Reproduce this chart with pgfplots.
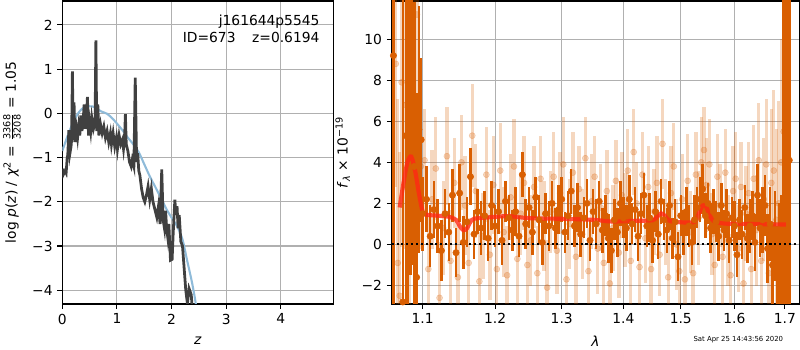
\documentclass[border=0pt]{standalone}
\usepackage{fontspec}
\setmainfont{DejaVu Sans}
\usepackage{pgfplots}
\pgfplotsset{compat=1.18}
\definecolor{dko}{RGB}{217,95,2}
\definecolor{pzblue}{RGB}{143,187,217}
\definecolor{pzblack}{RGB}{64,64,64}
\definecolor{mred}{RGB}{255,40,20}
\definecolor{gridc}{RGB}{176,176,176}
\begin{document}
\begin{tikzpicture}
\useasboundingbox (0,0) rectangle (8in,3.5in);
\pgfplotsset{every axis/.append style={
  font=\fontsize{10}{12}\selectfont,
  scale only axis, anchor=south west,
  tick align=outside, tick pos=left, major tick length=3.5pt,
  grid=major, grid style={color=gridc, line width=0.8pt},
  axis line style={line width=0.8pt},
  every tick/.style={black, line width=0.8pt},
  minor tick num=0,
}}
% ---------- left: p(z) ----------
\begin{axis}[
  at={(0.623in,0.46in)}, width=2.71in, height=3.03in,
  xmin=0, xmax=4.96, ymin=-4.31, ymax=2.54,
  xtick={0,1,2,3,4}, xticklabels={0,1,2,3,4},
  ytick={-4,-3,-2,-1,0,1,2}, yticklabels={−4,−3,−2,−1,0,1,2},
  xlabel={\textit{z}},
  xlabel style={at={(axis description cs:0.5,-0.122)}, anchor=center},
  ylabel={log \textit{p}(\textit{z}) / \textit{χ}\textsuperscript{2} = $\frac{\mbox{\fontsize{7}{7}\selectfont 3368}}{\mbox{\fontsize{7}{7}\selectfont 3208}}$ = 1.05},
  ylabel style={at={(axis description cs:-0.186,0.5)}, anchor=center},
]
\addplot[pzblue, line width=1.5pt, smooth] coordinates {
(0.00,-0.85)(0.10,-0.5)(0.20,-0.2)(0.30,0.02)(0.40,0.14)(0.50,0.16)(0.60,0.14)(0.70,0.05)(0.82,-0.01)(0.92,-0.12)(1.00,-0.23)(1.10,-0.38)(1.20,-0.55)(1.30,-0.7)(1.40,-0.88)(1.50,-1.15)(1.60,-1.42)(1.70,-1.66)(1.80,-1.9)(1.90,-2.15)(2.00,-2.36)(2.10,-2.55)(2.20,-2.85)(2.28,-3.3)(2.37,-3.8)(2.43,-4.2)(2.46,-4.45)};
\addplot[pzblack, line width=2pt] coordinates {
(0.00,-1.25)(0.02,-1.38)(0.05,-1.3)(0.07,-1.35)(0.09,-1.0)(0.10,-0.95)(0.12,-0.38)(0.14,-0.9)(0.16,-0.75)(0.17,-0.6)(0.185,0.95)(0.20,-0.6)(0.215,0.25)(0.23,-0.65)(0.26,-0.35)(0.28,-0.55)(0.30,-0.3)(0.32,-0.5)(0.34,-0.05)(0.36,-0.4)(0.38,-0.2)(0.40,0.2)(0.42,-0.35)(0.44,-0.15)(0.46,0.37)(0.48,-0.5)(0.50,-0.2)(0.52,-0.4)(0.54,-0.1)(0.57,-0.35)(0.60,-0.2)(0.615,1.65)(0.63,-0.4)(0.65,0.2)(0.67,-0.5)(0.70,-0.25)(0.73,-0.45)(0.76,-0.3)(0.79,-0.55)(0.82,-0.4)(0.85,-0.65)(0.88,-0.45)(0.90,-0.7)(0.93,-0.45)(0.96,-0.75)(0.99,-0.55)(1.01,-0.8)(1.04,-0.5)(1.07,-0.7)(1.10,-0.6)(1.12,-0.8)(1.14,-0.55)(1.155,-0.02)(1.17,-0.7)(1.20,-0.85)(1.23,-1.1)(1.26,-1.2)(1.28,-1.05)(1.31,-1.2)(1.335,0.81)(1.36,-1.1)(1.38,-0.9)(1.40,-1.3)(1.42,-1.4)(1.45,-1.7)(1.48,-1.9)(1.51,-2.0)(1.54,-1.85)(1.57,-1.65)(1.60,-1.95)(1.63,-1.7)(1.66,-2.0)(1.70,-2.2)(1.73,-2.35)(1.76,-2.1)(1.79,-2.5)(1.82,-1.27)(1.845,-2.4)(1.87,-2.6)(1.89,-2.2)(1.91,-2.6)(1.93,-2.8)(1.95,-2.5)(1.98,-3.32)(2.01,-3.3)(2.03,-2.7)(2.06,-1.95)(2.08,-2.3)(2.10,-2.1)(2.12,-2.6)(2.14,-2.3)(2.17,-2.9)(2.20,-3.0)(2.23,-3.5)(2.26,-4.0)(2.29,-4.3)(2.32,-3.96)(2.36,-4.1)(2.39,-4.6)};
\node[anchor=north east, align=right, inner sep=0pt] at (axis description cs:0.95,0.955) {j161644p5545\\ID=673\hspace{1.2em}z=0.6194};
\end{axis}
% ---------- right: spectrum ----------
\begin{axis}[
  at={(3.917in,0.46in)}, width=4.075in, height=3.03in,
  xmode=log, xmin=1.0598, xmax=1.7295, ymin=-2.9, ymax=11.86,
  xtick={1.1,1.2,1.3,1.4,1.5,1.6,1.7}, xticklabels={1.1,1.2,1.3,1.4,1.5,1.6,1.7},
  minor xtick={},
  ytick={-2,0,2,4,6,8,10}, yticklabels={−2,0,2,4,6,8,10},
  xlabel={\textit{λ}},
  xlabel style={at={(axis description cs:0.5,-0.122)}, anchor=center},
  ylabel={\textit{f}\textsubscript{\textit{λ}} × 10\textsuperscript{−19}},
  ylabel style={at={(axis description cs:-0.12,0.5)}, anchor=center},
]
% light points
\addplot[only marks, mark=*, mark size=2.2pt, color=dko, opacity=0.25,
  error bars/.cd, y dir=both, y explicit, error mark=none,
  error bar style={line width=2.4pt, color=dko, opacity=0.25}]
  table[x index=0, y index=1, y error index=2] {
1.0650 8.8 6
1.0675 -0.9 8
1.0700 -2.5 7
1.0725 7.9 8
1.0775 6.8 7
1.0825 2.5 6
1.0875 6.9 7
1.0925 11.2 6
1.0975 3.8 4
1.1025 4.1 2.5
1.1075 -1.2 2.6
1.1125 2.2 2.4
1.1175 3.7 2.5
1.1225 -2.6 2.7
1.1275 0.8 2.3
1.1325 4.3 2.4
1.1375 -0.8 2.5
1.1425 3.0 2.2
1.1475 -1.6 2.6
1.1525 4.0 2.3
1.1575 1.9 2.4
1.1625 -0.9 2.2
1.1675 5.3 2.5
1.1725 2.6 2.3
1.1775 -1.8 2.4
1.1825 0.4 2.1
1.1875 3.4 2.3
1.1925 -0.5 2.2
1.1975 2.9 2.4
1.2025 -1.2 2.1
1.2075 3.6 2.3
1.2125 0.6 2.2
1.2175 -1.5 2.4
1.2225 2.3 2.1
1.2275 3.8 2.3
1.2325 -0.7 2.2
1.2375 1.5 2.0
1.2425 3.0 2.3
1.2475 -1.0 2.1
1.2525 0.2 2.2
1.2575 2.8 2.0
1.2625 -1.4 2.3
1.2675 3.2 2.1
1.2725 0.9 2.2
1.2775 -2.1 2.3
1.2825 1.6 2.0
1.2875 3.3 2.2
1.2925 -0.3 2.1
1.2975 2.5 2.0
1.3025 3.9 2.3
1.3075 -1.7 2.1
1.3125 1.0 2.2
1.3175 3.5 2.0
1.3225 -0.6 2.3
1.3275 2.7 2.1
1.3325 0.5 2.2
1.3375 4.2 2.0
1.3425 -1.3 2.1
1.3475 2.1 2.3
1.3525 3.3 2.0
1.3575 -0.2 2.2
1.3625 1.8 2.1
1.3675 -0.9 2.3
1.3725 2.6 2.0
1.3775 -1.9 2.2
1.3825 0.8 2.1
1.3875 3.1 2.0
1.3925 -0.4 2.2
1.3975 2.4 2.1
1.4025 1.2 2.3
1.4075 3.6 2.0
1.4125 -0.8 2.2
1.4175 4.5 2.1
1.4225 2.0 2.0
1.4275 -1.1 2.3
1.4325 3.4 2.1
1.4375 0.3 2.2
1.4425 2.8 2.0
1.4475 -1.2 2.2
1.4525 1.6 2.1
1.4575 3.0 2.3
1.4625 -0.5 2.0
1.4675 4.9 2.2
1.4725 1.1 2.1
1.4775 -1.6 2.0
1.4825 2.5 2.3
1.4875 3.8 2.1
1.4925 0.0 2.2
1.4975 -1.3 2.0
1.5025 2.2 2.2
1.5075 -1.7 2.1
1.5125 3.1 2.3
1.5175 0.6 2.0
1.5225 -1.4 2.2
1.5275 3.4 2.1
1.5325 1.3 2.3
1.5375 4.0 2.2
1.5425 4.6 2.1
1.5475 2.9 2.3
1.5525 3.9 2.2
1.5575 0.5 2.0
1.5625 -1.0 2.2
1.5675 3.3 2.1
1.5725 1.9 2.0
1.5775 -0.6 2.3
1.5825 3.5 2.1
1.5875 0.2 2.2
1.5925 -1.5 2.0
1.5975 2.6 2.2
1.6025 3.2 2.3
1.6075 -0.2 2.1
1.6125 2.8 2.2
1.6175 -1.9 2.4
1.6225 1.5 2.3
1.6275 2.5 2.5
1.6325 -1.2 2.4
1.6375 3.2 2.6
1.6425 0.7 2.7
1.6475 4.1 2.8
1.6525 -0.8 2.9
1.6575 2.2 3.0
1.6625 3.9 3.2
1.6675 -1.4 3.4
1.6725 3.0 3.6
1.6775 3.6 3.9
1.6825 1.2 4.4
1.6875 2.0 5.0
1.6925 4.0 6.0
1.6975 5.5 8.0
};
% dark points
\addplot[only marks, mark=*, mark size=2.3pt, color=dko,
  error bars/.cd, y dir=both, y explicit, error mark=none,
  error bar style={line width=1.8pt, color=dko}]
  table[x index=0, y index=1, y error index=2] {
1.0620 9.2 30
1.0740 -2.8 30
1.0780 5.3 12
1.0810 6.9 10
1.0840 6.5 8
1.0860 6.0 7
1.0890 3.8 8
1.0920 -1.6 9
1.0950 5.6 6
1.0980 5.1 4
1.100 1.5 1.8
1.105 2.2 1.6
1.110 0.4 1.5
1.115 1.7 1.4
1.120 0.9 1.3
1.125 -0.3 1.5
1.130 1.5 1.2
1.135 0.6 1.4
1.140 2.4 1.3
1.145 -0.4 1.2
1.150 2.5 1.4
1.155 0.1 1.3
1.160 1.1 1.2
1.165 3.3 1.4
1.170 0.5 1.2
1.175 1.6 1.1
1.180 0.8 1.3
1.185 1.4 1.2
1.190 0.3 1.1
1.195 1.9 1.2
1.200 0.9 1.0
1.205 1.6 1.1
1.210 0.2 1.2
1.215 2.1 1.0
1.220 1.3 1.1
1.225 0.7 1.0
1.230 1.6 1.2
1.235 0.4 1.0
1.240 3.4 1.1
1.245 1.0 1.2
1.250 1.8 1.0
1.255 0.6 1.1
1.260 2.3 1.0
1.265 1.2 1.2
1.270 0.1 1.1
1.275 1.5 1.0
1.280 0.9 1.2
1.285 2.0 1.1
1.290 0.8 1.0
1.295 1.7 1.2
1.300 2.2 1.1
1.305 0.6 1.0
1.310 1.4 1.2
1.315 2.6 1.1
1.320 0.9 1.0
1.325 1.8 1.2
1.330 0.5 1.1
1.335 1.3 1.0
1.340 2.0 1.2
1.345 0.2 1.0
1.350 1.6 1.1
1.355 1.0 1.2
1.360 2.1 1.0
1.365 0.7 1.1
1.370 1.4 1.0
1.375 0.3 1.2
1.380 -0.3 1.1
1.385 1.2 1.0
1.390 0.6 1.2
1.395 2.0 1.1
1.400 1.3 1.0
1.405 0.8 1.1
1.410 2.2 1.2
1.415 1.0 1.0
1.420 1.7 1.1
1.425 0.4 1.2
1.430 1.5 1.0
1.435 2.4 1.1
1.440 0.9 1.0
1.445 1.3 1.2
1.450 0.2 1.1
1.455 1.6 1.0
1.460 0.5 1.2
1.465 2.1 1.1
1.470 1.2 1.0
1.475 0.7 1.1
1.480 1.9 1.2
1.485 0.3 1.0
1.490 1.1 1.1
1.495 -0.6 1.2
1.500 1.4 1.0
1.505 0.6 1.1
1.510 1.6 1.2
1.515 0.9 1.0
1.520 0.1 1.1
1.525 1.2 1.2
1.530 1.8 1.0
1.535 2.2 1.1
1.540 2.7 1.2
1.545 1.4 1.1
1.550 2.0 1.0
1.555 0.8 1.2
1.560 1.6 1.1
1.565 1.1 1.0
1.570 0.4 1.2
1.575 1.9 1.1
1.580 0.7 1.0
1.585 1.5 1.2
1.590 0.2 1.1
1.595 1.3 1.0
1.600 0.9 1.2
1.605 -0.5 1.1
1.610 1.2 1.0
1.615 0.5 1.2
1.620 1.8 1.1
1.625 0.3 1.2
1.630 0.9 1.3
1.635 1.4 1.2
1.640 0.1 1.4
1.645 2.4 1.5
1.650 0.8 1.4
1.655 1.2 1.6
1.660 1.9 1.5
1.665 -0.2 1.7
1.670 1.0 1.8
1.675 -1.0 2.0
1.680 0.4 2.2
1.685 -1.6 2.5
1.688 -1.0 3
1.692 -1.6 4
1.697 -2.4 20
1.703 10.1 30
1.709 4.1 30
};
% model
\addplot[mred, line width=3pt, opacity=0.8, smooth] coordinates {
(1.070,1.8)(1.075,3.0)(1.080,4.0)(1.085,4.28)(1.090,3.6)(1.095,2.5)(1.100,1.6)(1.105,1.45)(1.120,1.40)(1.135,1.35)(1.145,1.2)(1.150,0.9)(1.155,0.7)(1.160,0.78)(1.165,1.1)(1.170,1.25)(1.190,1.32)(1.220,1.38)(1.250,1.28)(1.300,1.25)(1.350,1.2)(1.380,1.12)(1.420,1.15)(1.450,1.18)(1.458,1.35)(1.465,1.52)(1.472,1.38)(1.480,1.15)(1.500,1.08)(1.525,1.1)(1.533,1.5)(1.540,1.9)(1.546,1.85)(1.552,1.5)(1.560,1.15)(1.580,1.02)(1.620,1.0)(1.680,0.98)(1.702,0.97)};
% zero line
\addplot[black, line width=1.5pt, dash pattern=on 1.5pt off 2pt] coordinates {(1.0598,0)(1.7295,0)};
\end{axis}
\node[anchor=east, font=\fontsize{5}{6}\selectfont] at (7.88in,0.1in) {Sat Apr 25 14:43:56 2020};
\end{tikzpicture}
\end{document}
